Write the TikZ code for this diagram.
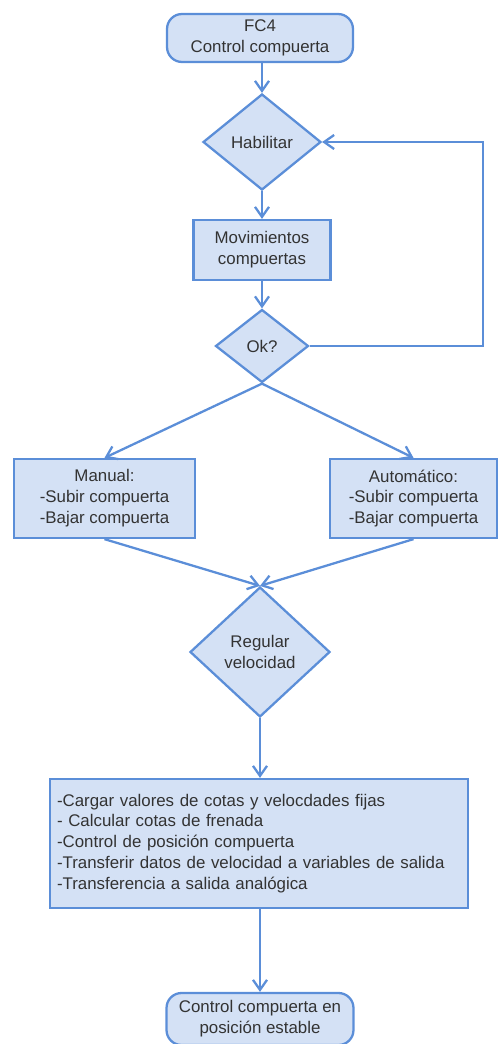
\documentclass[tikz,border=0pt]{standalone}
\usepackage{fontspec}
\setmainfont{Liberation Sans}
\usetikzlibrary{shapes.geometric,arrows.meta}
\definecolor{boxfill}{HTML}{D4E1F5}
\definecolor{boxline}{HTML}{5B8ED8}
\definecolor{boxtext}{HTML}{333333}

\begin{document}
\begin{tikzpicture}[x=0.02cm,y=-0.02cm,
  font=\fontsize{9.6}{11.9}\selectfont,
  base/.style={draw=boxline,fill=boxfill,line width=1.3pt,text=boxtext,align=center,inner sep=0pt},
  term/.style={base,rounded corners=0.3cm},
  proc/.style={base},
  decide/.style={base,diamond},
  flow/.style={draw=boxline,line width=1.3pt,-{Straight Barb[length=2mm,width=2.8mm,line width=1.3pt]}}]
\useasboundingbox (0,0) rectangle (499,1044);

\node[term,minimum width=3.72cm,minimum height=0.96cm] (fc) at (260,38) {FC4\\Control compuerta};
\node[decide,minimum width=2.36cm,minimum height=1.92cm] (hab) at (262,142) {Habilitar};
\node[proc,minimum width=2.74cm,minimum height=1.2cm] (mov) at (262,250) {Movimientos\\compuertas};
\node[decide,minimum width=1.86cm,minimum height=1.46cm] (ok) at (262,346) {Ok?};
\node[proc,minimum width=3.62cm,minimum height=1.58cm] (man) at (104.5,498.5) {Manual:\\-Subir compuerta\\-Bajar compuerta};
\node[proc,minimum width=3.34cm,minimum height=1.58cm] (auto) at (413.5,498.5) {Automático:\\-Subir compuerta\\-Bajar compuerta};
\node[decide,minimum width=2.8cm,minimum height=2.6cm] (reg) at (260,652) {Regular\\velocidad};
\node[proc,minimum width=8.36cm,minimum height=2.58cm,text width=8.08cm,align=left] (calc) at (259,843.5)
  {-Cargar valores de cotas y velocdades fijas\\- Calcular cotas de frenada\\-Control de posición compuerta\\-Transferir datos de velocidad a variables de salida\\-Transferencia a salida analógica};
\node[term,minimum width=3.74cm,minimum height=1.04cm] (fin) at (260,1019) {Control compuerta en\\posición estable};

\coordinate (back) at (483,346);

\draw[flow] (fc.south -| hab.north) -- (hab.north);
\draw[flow] (hab) -- (mov);
\draw[flow] (mov) -- (ok);
\draw[flow] (ok.east) -- (back) |- (hab.east);
\draw[flow] (ok.south) -- (man.north);
\draw[flow] (ok.south) -- (auto.north);
\draw[flow] (man.south) -- (reg.north);
\draw[flow] (auto.south) -- (reg.north);
\draw[flow] (reg.south) -- (calc.north -| reg.south);
\draw[flow] (calc.south -| fin.north) -- (fin.north);
\end{tikzpicture}
\end{document}
